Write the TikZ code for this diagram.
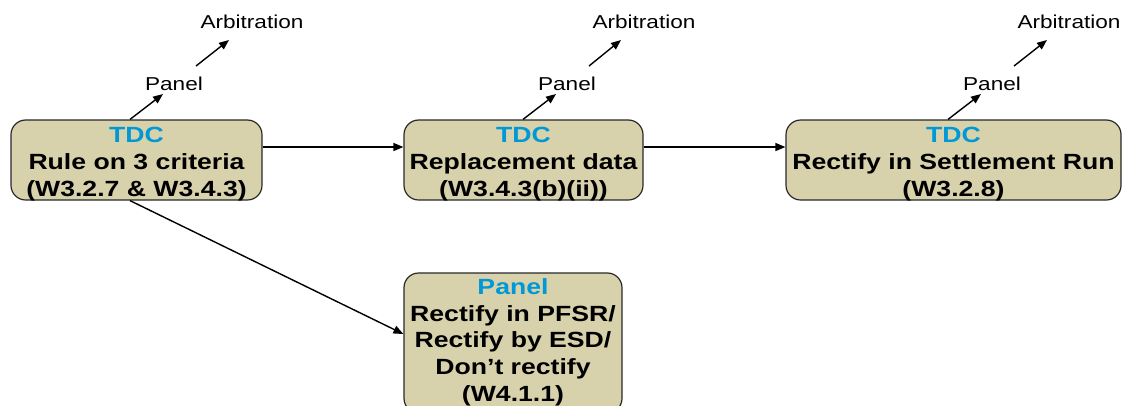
\documentclass[tikz,border=0pt]{standalone}
\usepackage{fontspec}
\newfontfamily\lsans[FakeStretch=1.21]{Liberation Sans}
\usetikzlibrary{arrows.meta,calc}
\definecolor{boxfill}{RGB}{216,210,172}
\definecolor{hdblue}{RGB}{0,153,214}
\definecolor{edge}{RGB}{40,40,40}
\tikzset{
  stage/.style={draw=edge, line width=0.9pt, fill=boxfill, rounded corners=11pt,
    align=center, inner sep=0pt, text height=57pt, text depth=3pt,
    font=\lsans\bfseries\fontsize{16.5}{19.9}\selectfont},
  tallstage/.style={stage, text height=96pt, text depth=9pt},
  lbl/.style={inner sep=0pt, font=\lsans\fontsize{14}{16}\selectfont},
  arr/.style={draw=black, line width=1.05pt, -{Triangle[length=7.5pt,width=6pt]}},
  hd/.style={color=hdblue}
}
\begin{document}
\begin{tikzpicture}[x=0.75pt,y=-0.75pt]
\clip (0,0) rectangle (1123,405);
\useasboundingbox (0,0) rectangle (1123,405);
% boxes
\node[stage, minimum width=188.25pt] (b1) at (136.5,160)
  {\textcolor{hdblue}{TDC}\\Rule on 3 criteria\\(W3.2.7 \& W3.4.3)};
\node[stage, minimum width=179.25pt] (b2) at (523.5,160)
  {\textcolor{hdblue}{TDC}\\Replacement data\\(W3.4.3(b)(ii))};
\node[stage, minimum width=251.25pt] (b3) at (953.5,160)
  {\textcolor{hdblue}{TDC}\\Rectify in Settlement Run\\(W3.2.8)};
\node[tallstage, minimum width=163.5pt] (b4) at (513,343)
  {\textcolor{hdblue}{Panel}\\Rectify in PFSR/\\Rectify by ESD/\\Don’t rectify\\(W4.1.1)};
% labels
\node[lbl] (p1) at (174,84) {Panel};
\node[lbl] (a1) at (252,22) {Arbitration};
\node[lbl] (p2) at (567,84) {Panel};
\node[lbl] (a2) at (644,22) {Arbitration};
\node[lbl] (p3) at (992,84) {Panel};
\node[lbl] (a3) at (1069,22) {Arbitration};
% escalation arrows
\draw[arr] ($(b1.north)+(-6.5,0)$) -- ($(p1.center)+(-11,10)$);
\draw[arr] ($(p1.center)+(22,-18)$) -- ($(a1.center)+(-23,18)$);
\draw[arr] ($(b2.north)+(-0.5,0)$) -- ($(p2.center)+(-11,10)$);
\draw[arr] ($(p2.center)+(22,-18)$) -- ($(a2.center)+(-23,18)$);
\draw[arr] ($(b3.north)+(-5.5,0)$) -- ($(p3.center)+(-11,10)$);
\draw[arr] ($(p3.center)+(22,-18)$) -- ($(a3.center)+(-22,18)$);
% flow arrows
\draw[arr] ($(b1.east)+(0,-13)$) -- ($(b2.west)+(0,-13)$);
\draw[arr] ($(b2.east)+(0,-13)$) -- ($(b3.west)+(0,-13)$);
\draw[arr] ($(b1.south)+(-6.5,0)$) -- ($(b4.west)+(0,-9)$);
\end{tikzpicture}
\end{document}
